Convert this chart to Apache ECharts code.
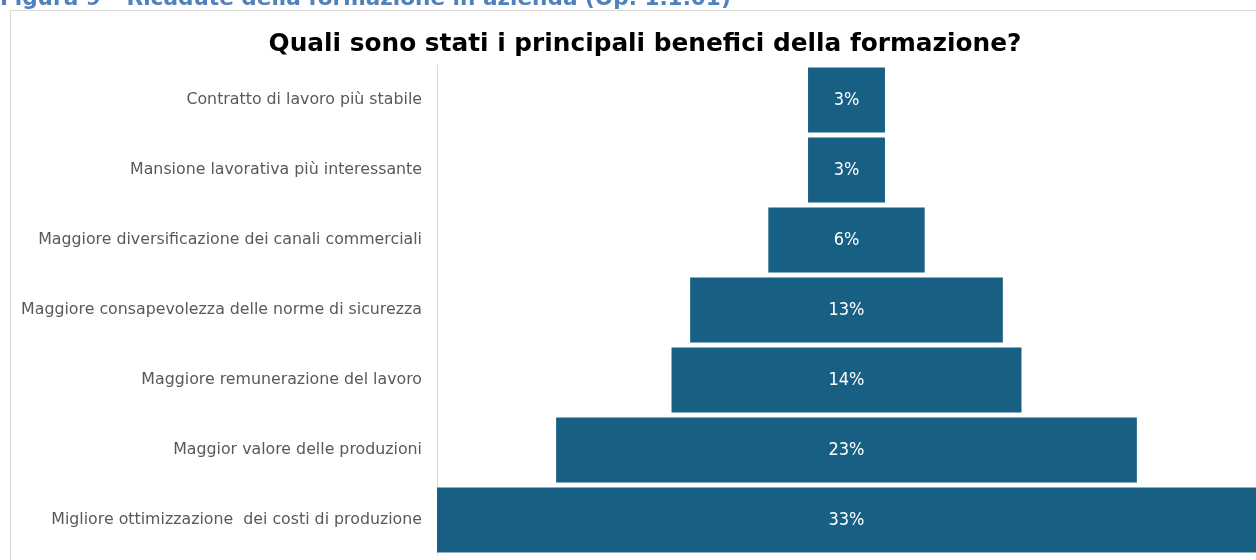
<!DOCTYPE html>
<html>
<head>
<meta charset="utf-8">
<script src="https://cdn.jsdelivr.net/npm/echarts@6/dist/echarts.min.js"></script>
<style>
html,body{margin:0;padding:0;background:#fff;}
#chart{width:1256px;height:560px;}
</style>
</head>
<body>
<div id="chart"></div>
<script>
const categories = [
  "Contratto di lavoro più stabile",
  "Mansione lavorativa più interessante",
  "Maggiore diversificazione dei canali commerciali",
  "Maggiore consapevolezza delle norme di sicurezza",
  "Maggiore remunerazione del lavoro",
  "Maggior valore delle produzioni",
  "Migliore ottimizzazione  dei costi di produzione"
];
const values = [3.1, 3.1, 6.3, 12.6, 14.1, 23.4, 33.0];
const figureCaption = "Figura 9 – Ricadute della formazione in azienda (Op. 1.1.01)";
const chartTitle = "Quali sono stati i principali benefici della formazione?";

const maxVal = Math.max.apply(null, values);
const offsets = values.map(v => (maxVal - v) / 2);

const chart = echarts.init(document.getElementById('chart'));
chart.setOption({
  backgroundColor: '#ffffff',
  animation: false,
  title: {
    text: chartTitle,
    left: 640,
    textAlign: 'center',
    top: 27,
    textStyle: {
      fontFamily: 'DejaVu Sans',
      fontWeight: 'bold',
      fontSize: 24.8,
      color: '#000000'
    }
  },
  graphic: [
    {
      type: 'rect',
      shape: {x: 10.5, y: 10.5, width: 1260, height: 560},
      style: {fill: 'none', stroke: '#D9D9D9', lineWidth: 1},
      silent: true,
      z: 0
    },
    {
      type: 'text',
      left: 0,
      top: -12,
      style: {
        text: figureCaption,
        fontFamily: 'DejaVu Sans',
        fontWeight: 'bold',
        fontSize: 21.6,
        fill: '#4F81BD'
      },
      z: 10
    }
  ],
  grid: {
    left: 437,
    right: -2,
    top: 65,
    bottom: 5,
    containLabel: false
  },
  xAxis: {
    type: 'value',
    min: 0,
    max: maxVal,
    show: false
  },
  yAxis: {
    type: 'category',
    data: categories,
    inverse: true,
    axisLine: {show: true, lineStyle: {color: '#D9D9D9', width: 1}},
    axisTick: {show: false},
    axisLabel: {
      color: '#595959',
      fontFamily: 'DejaVu Sans',
      fontSize: 15.8,
      margin: 15
    }
  },
  series: [
    {
      type: 'bar',
      stack: 'f',
      data: offsets,
      itemStyle: {color: 'transparent'},
      barCategoryGap: '7%',
      silent: true
    },
    {
      type: 'bar',
      stack: 'f',
      data: values,
      barCategoryGap: '7%',
      itemStyle: {color: '#176083'},
      label: {
        show: true,
        position: 'inside',
        color: '#ffffff',
        fontFamily: 'DejaVu Sans Condensed',
        fontSize: 18,
        formatter: p => Math.round(p.value) + '%'
      }
    }
  ]
});
</script>
</body>
</html>
